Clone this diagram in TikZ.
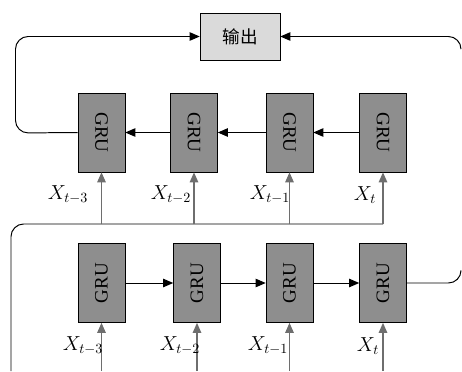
\documentclass[tikz,border=0pt]{standalone}
\usepackage{fontspec}
\setmainfont{Liberation Serif}
\newfontfamily\cjk{Noto Sans CJK SC}
\usetikzlibrary{arrows.meta,positioning,calc}
\definecolor{Cell}{HTML}{8E8E8E}
\definecolor{Out}{HTML}{DADADA}
\definecolor{Feed}{HTML}{6E6E6E}

\begin{document}
\begin{tikzpicture}[x=0.025cm,y=-0.025cm,
  gru/.style={draw=black,fill=Cell,minimum width=1.175cm,minimum height=1.975cm,
              inner sep=0pt,font=\fontsize{13.5}{13.5}\selectfont},
  outbox/.style={draw=black,fill=Out,minimum width=2cm,minimum height=1.175cm,
                 font=\cjk\fontsize{12.5}{12.5}\selectfont},
  arrow/.style={-{Triangle[length=2.5mm,width=2.1mm]},line width=0.7pt,draw=black},
  feed/.style={-{Triangle[length=2.5mm,width=2.1mm]},line width=1pt,draw=Feed},
  xlab/.style={font=\Large}
]
  \useasboundingbox (0,0) rectangle (462,371);
  % output
  \node[outbox] (out) at (240,36.5) {输出};
  % backward layer
  \node[gru] (t1) at (101.5,132.5) {\rotatebox{-90}{GRU}};
  \node[gru] (t2) at (194,132.5) {\rotatebox{-90}{GRU}};
  \node[gru] (t3) at (289.5,132.5) {\rotatebox{-90}{GRU}};
  \node[gru] (t4) at (383,132.5) {\rotatebox{-90}{GRU}};
  % forward layer
  \node[gru] (b1) at (101.5,283) {\rotatebox{90}{GRU}};
  \node[gru] (b2) at (197,283) {\rotatebox{90}{GRU}};
  \node[gru] (b3) at (289.5,283) {\rotatebox{90}{GRU}};
  \node[gru] (b4) at (383,283) {\rotatebox{90}{GRU}};
  \draw[arrow] (t4) -- (t3);
  \draw[arrow] (t3) -- (t2);
  \draw[arrow] (t2) -- (t1);
  \draw[arrow] (b1) -- (b2);
  \draw[arrow] (b2) -- (b3);
  \draw[arrow] (b3) -- (b4);
  % loops to the output
  \coordinate (lt) at (15.5,133);
  \coordinate (lu) at (15.5,36.5);
  \coordinate (rt) at (461,36.5);
  \coordinate (rd) at (461,48);
  \coordinate (br) at (461,283);
  \coordinate (bu) at (461,272);
  \draw[arrow,rounded corners=9] (t1.west) -- (lt) -- (lu) -- (out.west);
  \draw[arrow,rounded corners=9] (rd) -- (rt) -- (out.east);
  \draw[line width=0.7pt,rounded corners=9] (b4.east) -- (br) -- (bu);
  % inputs
  \coordinate (s4) at (383,224);
  \coordinate (sc) at (11,224);
  \coordinate (sd) at (11,371);
  \draw[line width=0.7pt,rounded corners=9] (s4) -- (sc) -- (sd);
  \foreach \i/\x in {1/101.5,2/194,3/289.5,4/383}{
    \coordinate (u\i) at (\x,224);
    \draw[feed] (u\i) -- (t\i.south);
  }
  \foreach \i/\x in {1/101.5,2/197,3/289.5,4/383}{
    \coordinate (d\i) at (\x,371);
    \draw[feed] (d\i) -- (b\i.south);
  }
  \node[xlab] (xt1) at (68,195) {$X_{t-3}$};
  \node[xlab] (xt2) at (171,195) {$X_{t-2}$};
  \node[xlab] (xt3) at (270,195) {$X_{t-1}$};
  \node[xlab] (xt4) at (365,195) {$X_{t}$};
  \node[xlab] (xb1) at (83,346) {$X_{t-3}$};
  \node[xlab] (xb2) at (180,346) {$X_{t-2}$};
  \node[xlab] (xb3) at (268,346) {$X_{t-1}$};
  \node[xlab] (xb4) at (368,346) {$X_{t}$};
\end{tikzpicture}
\end{document}
